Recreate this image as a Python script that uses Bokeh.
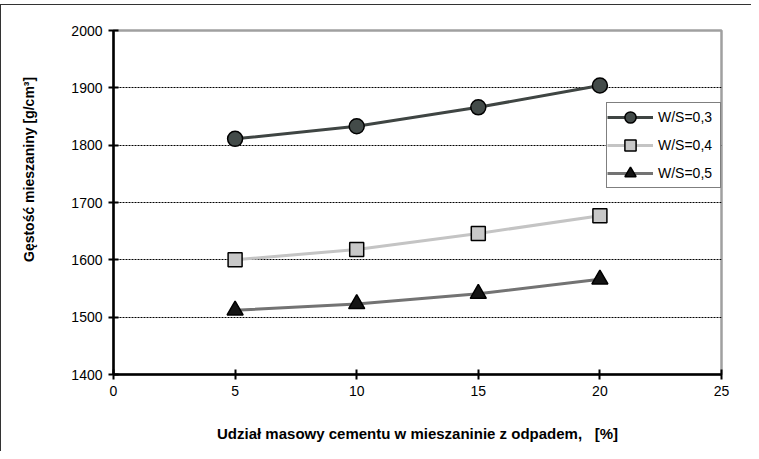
from bokeh.plotting import figure
from bokeh.models import FixedTicker, Legend, LegendItem
from bokeh.embed import file_html
from bokeh.resources import INLINE

x_vals = [5, 10, 15, 20]
ws03 = [1811, 1833, 1866, 1904]
ws04 = [1600, 1618, 1646, 1677]
ws05 = [1512, 1523, 1541, 1566]
x_ticks = [0, 5, 10, 15, 20, 25]
y_ticks = [1400, 1500, 1600, 1700, 1800, 1900, 2000]
labels = ["W/S=0,3", "W/S=0,4", "W/S=0,5"]
x_title = "Udział masowy cementu w mieszaninie z odpadem,\u00a0\u00a0\u00a0[%]"
y_title = "Gęstość mieszaniny [g/cm³]"

FONT = "Liberation Sans"

p = figure(width=751, height=447, output_backend="svg", toolbar_location=None,
           x_range=(0, 25), y_range=(1400, 2000),
           min_border_left=112, min_border_right=31, min_border_top=25, min_border_bottom=78)
p.styles = {"margin-top": "4px", "border-top": "1.5px solid #333",
            "border-left": "1.5px solid #333"}

p.outline_line_color = "#a0a0a0"
p.outline_line_width = 2.5
p.background_fill_color = "white"
p.border_fill_color = "white"

p.xgrid.visible = False
p.ygrid.ticker = FixedTicker(ticks=[1500, 1600, 1700, 1800, 1900])
p.ygrid.grid_line_color = "black"
p.ygrid.grid_line_dash = "2 1"
p.ygrid.grid_line_width = 1.2

for ax in (p.xaxis, p.yaxis):
    ax.axis_line_color = "black"
    ax.axis_line_width = 2.5
    ax.major_tick_line_color = "black"
    ax.major_tick_line_width = 2
    ax.major_tick_in = 5
    ax.major_tick_out = 5
    ax.minor_tick_line_color = None
    ax.major_label_text_font = FONT
    ax.major_label_text_font_size = "14px"
    ax.major_label_text_color = "black"
    ax.axis_label_text_font = FONT
    ax.axis_label_text_font_style = "bold"
    ax.axis_label_text_color = "black"

p.xaxis.ticker = FixedTicker(ticks=x_ticks)
p.yaxis.ticker = FixedTicker(ticks=y_ticks)
p.xaxis.major_label_standoff = 6
p.yaxis.major_label_standoff = 6
p.xaxis.axis_label = x_title
p.xaxis.axis_label_text_font_size = "15px"
p.xaxis.axis_label_standoff = 26
# leading no-break spaces lift the title above the centre, as in the original
p.yaxis.axis_label = "\u00a0" * 17 + y_title
p.yaxis.axis_label_text_font_size = "14px"
p.yaxis.axis_label_standoff = 31

l1 = p.line(x_vals, ws03, line_color="#3f4543", line_width=3)
m1 = p.scatter(x_vals, ws03, marker="circle", size=15, fill_color="#434b49",
               line_color="black", line_width=1.5)
l2 = p.line(x_vals, ws04, line_color="#c4c4c4", line_width=3)
m2 = p.scatter(x_vals, ws04, marker="square", size=14, fill_color="#c8c8c8",
               line_color="black", line_width=1.5)
l3 = p.line(x_vals, ws05, line_color="#737373", line_width=3)
m3 = p.scatter(x_vals, ws05, marker="triangle", size=16, fill_color="#141414",
               line_color="black", line_width=1.5)

legend = Legend(items=[LegendItem(label=labels[0], renderers=[l1, m1]),
                       LegendItem(label=labels[1], renderers=[l2, m2]),
                       LegendItem(label=labels[2], renderers=[l3, m3])],
                location=(493, 186))
legend.border_line_color = "black"
legend.border_line_width = 1.5
legend.label_text_font = FONT
legend.label_text_font_size = "14px"
legend.label_text_color = "black"
legend.glyph_width = 46
legend.glyph_height = 28
legend.label_width = 62
legend.spacing = 0
legend.padding = 0
legend.margin = 0
legend.label_standoff = 5
legend.background_fill_alpha = 1
p.add_layout(legend, "center")

open("out.html", "w").write(file_html(p, INLINE))
